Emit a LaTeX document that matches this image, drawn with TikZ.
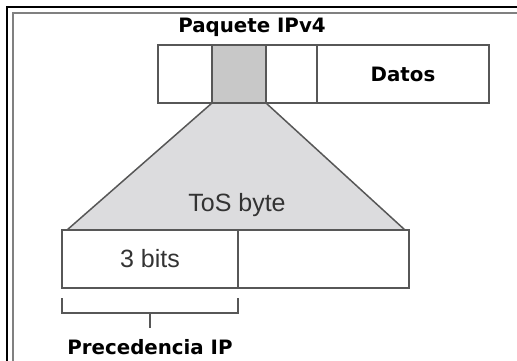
\documentclass[tikz,border=0pt]{standalone}
\usepackage{fontspec}
\setmainfont{DejaVu Sans}
\newfontfamily\arialfont{Liberation Sans}
\usetikzlibrary{positioning,calc,backgrounds}
\definecolor{edge}{HTML}{575757}
\definecolor{cellgray}{HTML}{C8C8C8}
\definecolor{fangray}{HTML}{DCDCDE}

\begin{document}
\begin{tikzpicture}[x=1pt, y=-1pt,
  c/.style={draw=edge, line width=2pt, inner sep=0pt, outer sep=0pt, minimum height=58pt, anchor=north west},
  b/.style={font=\fontsize{19.8}{22}\selectfont\bfseries},
  r/.style={font=\arialfont\fontsize{25}{28}\selectfont, text=black!80}]
\clip (0,0) rectangle (517,360);
% marco
\draw[line width=2pt] (7,370) -- (7,7) -- (530,7);
\draw[line width=2pt, gray] (13,370) -- (13,13) -- (530,13);
% paquete
\node[b] (title) at (252,27) {Paquete IPv4};
\node[c, minimum width=54pt] (h1) at (158,45) {};
\node[c, minimum width=54pt, fill=cellgray, right=0pt of h1] (tos) {};
\node[c, minimum width=51pt, right=0pt of tos] (h3) {};
\node[c, minimum width=172pt, right=0pt of h3, b] (dat) {Datos};
% byte ToS
\node[c, minimum width=176pt, r] (p3) at (62,230) {3 bits};
\node[c, minimum width=171pt, right=0pt of p3] (rest) {};
\begin{scope}[on background layer]
\fill[fangray] (tos.south west) -- (tos.south east) -- ($(rest.north east)+(-4,0)$) -- ($(p3.north west)+(5,0)$) -- cycle;
\end{scope}
\draw[edge, line width=1.5pt] (tos.south west) -- ($(p3.north west)+(5,0)$);
\draw[edge, line width=1.5pt] (tos.south east) -- ($(rest.north east)+(-4,0)$);
\node[r] (tb) at (237,205) {ToS byte};
% llave
\coordinate (bl) at ($(p3.south west)+(0,10)$);
\coordinate (br) at ($(p3.south east)+(0,10)$);
\draw[edge, line width=2pt] (bl) -- ++(0,15) -| (br);
\draw[edge, line width=2pt] ($(bl)!0.5!(br)+(0,15)$) -- ++(0,15);
\node[b] (prec) at (150,347) {Precedencia IP};
\end{tikzpicture}
\end{document}
